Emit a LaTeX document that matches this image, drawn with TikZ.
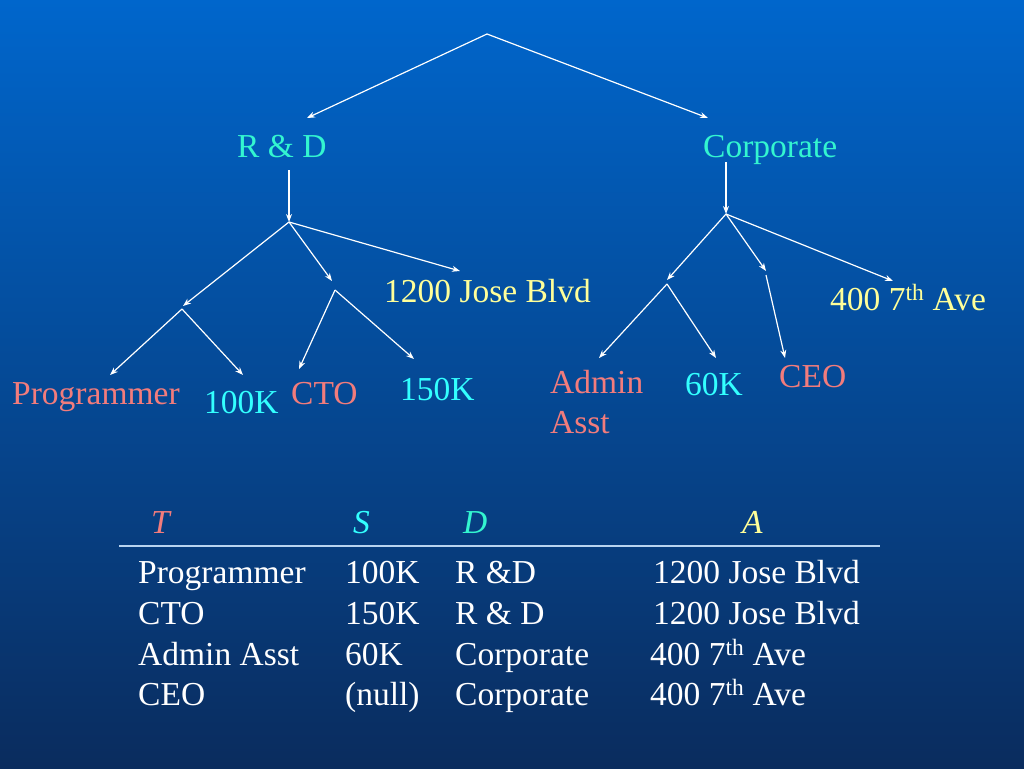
\documentclass[tikz,border=0pt]{standalone}
\usepackage{fontspec}
\setmainfont{Liberation Serif}
\usetikzlibrary{arrows.meta}
\definecolor{slidetop}{HTML}{0066CC}
\definecolor{slidemid}{HTML}{0551A8}
\definecolor{slidebot}{HTML}{0A2C5E}
\definecolor{pinky}{HTML}{F27C7C}
\definecolor{aqua}{HTML}{33FFFF}
\definecolor{teal}{HTML}{33F5D0}
\definecolor{paleyel}{HTML}{FFFF99}
\definecolor{rulecol}{HTML}{B8D4F0}
\tikzset{
  lbl/.style={anchor=base west,inner sep=0pt,font=\fontsize{33.5}{41}\selectfont},
  arr/.style={-{Stealth[length=8pt,width=6pt]},white,line width=1.2pt}
}
\begin{document}
\begin{tikzpicture}[x=1pt,y=-1pt]
\shade [top color=slidetop,middle color=slidemid,bottom color=slidebot] (0,0) rectangle (1024,768);
\useasboundingbox (0,0) rectangle (1024,768);
% tree labels
\node [lbl,teal] (rd) at (237,157) {R \& D};
\node [lbl,teal] (corp) at (703,157) {Corporate};
\node [lbl,paleyel] (jose) at (384,302) {1200 Jose Blvd};
\node [lbl,paleyel] (ave) at (830,310) {400 7\textsuperscript{th} Ave};
\node [lbl,pinky] (prog) at (12,404) {Programmer};
\node [lbl,aqua] (hk) at (204,413) {100K};
\node [lbl,pinky] (cto) at (291,404) {CTO};
\node [lbl,aqua] (hfk) at (400,400) {150K};
\node [lbl,pinky,align=left,anchor=north west] (adm) at (550,370) {Admin\\[-1pt]Asst};
\node [lbl,aqua] (sk) at (685,395) {60K};
\node [lbl,pinky] (ceo) at (779,387) {CEO};
% junctions
\coordinate (root) at (487,34);
\coordinate (rdin) at (307,118);
\coordinate (corpin) at (708,118);
\coordinate (rdtop) at (289,170);
\coordinate (rdj) at (289,222);
\coordinate (pin) at (183,306);
\coordinate (pout) at (182,309);
\coordinate (cin) at (332,281);
\coordinate (cout) at (335,290);
\coordinate (joseend) at (460,271);
\coordinate (progend) at (110,375);
\coordinate (hkend) at (243,375);
\coordinate (ctoend) at (299,369);
\coordinate (hfkend) at (414,359);
\coordinate (corptop) at (726,162);
\coordinate (cj) at (726,214);
\coordinate (ain) at (667,280);
\coordinate (aout) at (667,284);
\coordinate (ein) at (766,271);
\coordinate (eout) at (766,275);
\coordinate (aveend) at (893,281);
\coordinate (admend) at (599,358);
\coordinate (skend) at (716,358);
\coordinate (ceoend) at (785,358);
% connectors
\draw [arr] (root) -- (rdin);
\draw [arr] (root) -- (corpin);
\draw [arr] (rdtop) -- (rdj);
\draw [arr] (rdj) -- (pin);
\draw [arr] (rdj) -- (cin);
\draw [arr] (rdj) -- (joseend);
\draw [arr] (pout) -- (progend);
\draw [arr] (pout) -- (hkend);
\draw [arr] (cout) -- (ctoend);
\draw [arr] (cout) -- (hfkend);
\draw [arr] (corptop) -- (cj);
\draw [arr] (cj) -- (ain);
\draw [arr] (cj) -- (ein);
\draw [arr] (cj) -- (aveend);
\draw [arr] (aout) -- (admend);
\draw [arr] (aout) -- (skend);
\draw [arr] (eout) -- (ceoend);
% table
\node [lbl,pinky] (ht) at (151,533) {\itshape T};
\node [lbl,aqua] (hs) at (353,533) {\itshape S};
\node [lbl,teal] (hd) at (463,533) {\itshape D};
\node [lbl,paleyel] (ha) at (742,533) {\itshape A};
\coordinate (rulel) at (119,546);
\coordinate (ruler) at (880,546);
\draw [rulecol,line width=2pt] (rulel) -- (ruler);
\node [lbl,white] (r1a) at (138,583) {Programmer};
\node [lbl,white] (r1b) at (345,583) {100K};
\node [lbl,white] (r1c) at (455,583) {R \&D};
\node [lbl,white] (r1d) at (653,583) {1200 Jose Blvd};
\node [lbl,white] (r2a) at (138,624) {CTO};
\node [lbl,white] (r2b) at (345,624) {150K};
\node [lbl,white] (r2c) at (455,624) {R \& D};
\node [lbl,white] (r2d) at (653,624) {1200 Jose Blvd};
\node [lbl,white] (r3a) at (138,665) {Admin Asst};
\node [lbl,white] (r3b) at (345,665) {60K};
\node [lbl,white] (r3c) at (455,665) {Corporate};
\node [lbl,white] (r3d) at (650,665) {400 7\textsuperscript{th} Ave};
\node [lbl,white] (r4a) at (138,705) {CEO};
\node [lbl,white] (r4b) at (345,705) {(null)};
\node [lbl,white] (r4c) at (455,705) {Corporate};
\node [lbl,white] (r4d) at (650,705) {400 7\textsuperscript{th} Ave};
\end{tikzpicture}
\end{document}
